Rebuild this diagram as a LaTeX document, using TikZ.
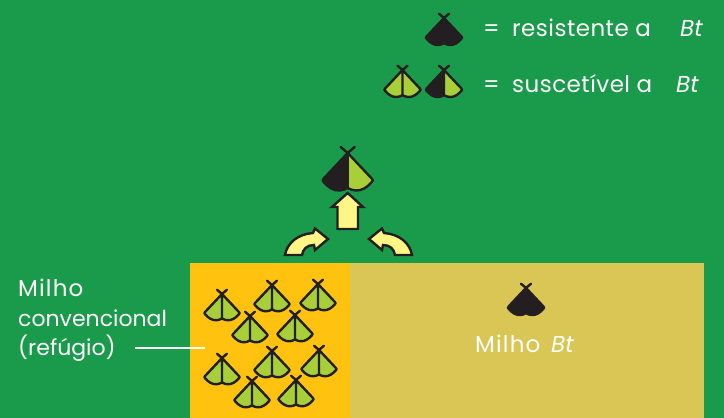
\documentclass[tikz,border=0pt]{standalone}
\usepackage{fontspec}
\setmainfont{Poppins}
\definecolor{bggreen}{HTML}{1A9B4B}
\definecolor{refuge}{HTML}{FFC20E}
\definecolor{btfield}{HTML}{DAC655}
\definecolor{ink}{HTML}{231F20}
\definecolor{leaf}{HTML}{A8CF38}
\definecolor{pale}{HTML}{FFF685}
\tikzset{
  lab/.style={text=white,font=\fontsize{23}{23}\selectfont\addfontfeature{LetterSpace=2},inner sep=0pt,anchor=base west},
  side/.style={text=white,font=\fontsize{22}{22}\selectfont,inner sep=0pt,anchor=base west},
  wide/.style={text=white,font=\fontsize{23}{23}\selectfont\addfontfeature{LetterSpace=5},inner sep=0pt,anchor=base west},
  tlab/.style={text=white,font=\fontsize{23}{23}\selectfont\itshape,inner sep=0pt,anchor=base west},
  arrowshape/.style={draw=ink,line width=2.4pt,fill=pale,line join=miter},
  mothl/.initial=leaf, mothr/.initial=leaf, mothw/.initial=2.4pt,
  moth/.pic={
    \fill[fill=\pgfkeysvalueof{/tikz/mothl}] (0,0) -- (-24,25.5) .. controls (-26,27) and (-25,28) .. (-24,29) .. controls (-20,34) and (-14,38) .. (-8,37.5) .. controls (-5,37.5) and (-2,36) .. (0,35) -- cycle;
    \fill[fill=\pgfkeysvalueof{/tikz/mothr}] (0,0) -- (24,25.5) .. controls (26,27) and (25,28) .. (24,29) .. controls (20,34) and (14,38) .. (8,37.5) .. controls (5,37.5) and (2,36) .. (0,35) -- cycle;
    \draw[draw=ink,line width=\pgfkeysvalueof{/tikz/mothw},line join=round,line cap=round] (-7,-6) -- (0,0) -- (7,-6) (0,0) -- (-24,25.5) .. controls (-26,27) and (-25,28) .. (-24,29) .. controls (-20,34) and (-14,38) .. (-8,37.5) .. controls (-5,37.5) and (-2,36) .. (0,35) .. controls (2,36) and (5,37.5) .. (8,37.5) .. controls (14,38) and (20,34) .. (24,29) .. controls (25,28) and (26,27) .. (24,25.5) -- cycle (0,0) -- (0,35);
  }
}
\begin{document}
\begin{tikzpicture}[x=1pt,y=-1pt]
\fill[bggreen] (0,0) rectangle (724,418);
\useasboundingbox (0,0) rectangle (724,418);
\fill[refuge] (190,263) rectangle (350,418);
\fill[btfield] (350,263) rectangle (704,418);

\foreach \x/\y in {222/294,272/285,318/284,250/316,295/315,222/358,272/351,319/350,252/381,296/380}
  \pic[scale=.7] at (\x,\y) {moth};
\pic[scale=.72,mothl=ink,mothr=ink] at (444,18) {moth};
\pic[scale=.72] at (402.5,70) {moth};
\pic[scale=.72,mothl=ink,mothr=leaf] at (444,70) {moth};
\pic[scale=1,mothl=ink,mothr=leaf] at (347.7,153) {moth};
\pic[scale=.72,mothl=ink,mothr=ink] at (526,288) {moth};

\node[lab] (e1) at (483,36) {=};
\node[lab] (l1) at (512,36) {resistente a};
\node[tlab] (b1) at (680,36) {Bt};
\node[lab] (e2) at (483,92) {=};
\node[lab] (l2) at (512,92) {suscetível a};
\node[tlab] (b2) at (676,92) {Bt};
\node[wide] (m1) at (18,296) {Milho};
\node[side] (m2) at (18,326) {convencional};
\node[side] (m3) at (18,355) {(refúgio)};
\node[wide] (m4) at (475,352) {Milho};
\node[tlab] (b3) at (551,352) {Bt};
\coordinate (linestart) at (135,348);
\coordinate (lineend) at (205,348);
\draw[white,line width=1.3pt] (linestart) -- (lineend);

\draw[arrowshape] (347.7,193) -- (363,207) -- (358,207) -- (358,229) -- (337.5,229) -- (337.5,207) -- (332,207) -- cycle;
\draw[arrowshape] (369,239) -- (382,228.5) -- (384,233) .. controls (399,234) and (410,243) .. (412,255) -- (395,255) .. controls (394,249) and (390,245) .. (383,245) -- (382,250) -- cycle;
\draw[arrowshape] (328,239) -- (315,228.5) -- (313,233) .. controls (298,234) and (287,243) .. (285,255) -- (302,255) .. controls (303,249) and (307,245) .. (314,245) -- (315,250) -- cycle;
\end{tikzpicture}
\end{document}
